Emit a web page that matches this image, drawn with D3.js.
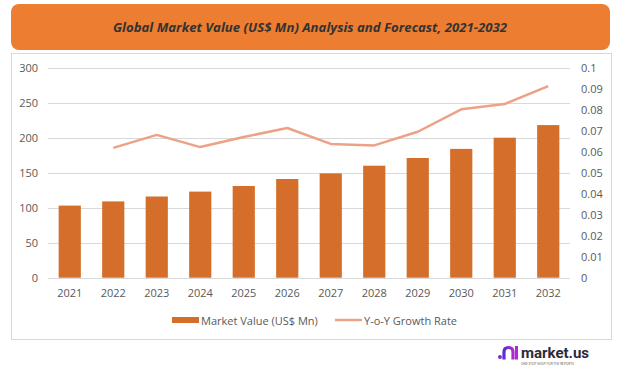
<!DOCTYPE html>
<html>
<head>
<meta charset="utf-8">
<script src="https://d3js.org/d3.v7.min.js"></script>
<style>
  body { margin: 0; background: #fff; }
  svg { display: block; font-family: "Open Sans", "Liberation Sans", sans-serif; }
</style>
</head>
<body>
<script>
const years = ["2021","2022","2023","2024","2025","2026","2027","2028","2029","2030","2031","2032"];
const marketValue = [103, 109, 116, 123, 131, 141, 149, 160, 171, 184, 200, 218];
const growthRate = [null, 0.0618, 0.068, 0.0622, 0.067, 0.0713, 0.0637, 0.063, 0.0695, 0.0802, 0.0827, 0.0912];
const leftTicks = [0, 50, 100, 150, 200, 250, 300];
const rightTicks = [0, 0.01, 0.02, 0.03, 0.04, 0.05, 0.06, 0.07, 0.08, 0.09, 0.1];

const W = 621, H = 371;
const svg = d3.select("body").append("svg").attr("width", W).attr("height", H);

// title banner
svg.append("rect").attr("x", 11).attr("y", 4).attr("width", 599).attr("height", 46)
  .attr("rx", 8).attr("fill", "#ED7D31");
svg.append("text").attr("x", 310).attr("y", 31.5).attr("text-anchor", "middle")
  .attr("font-size", 13.2).attr("font-style", "italic").attr("font-weight", "bold")
  .attr("fill", "#333").text("Global Market Value (US$ Mn) Analysis and Forecast, 2021-2032");

// chart frame
svg.append("rect").attr("x", 11.5).attr("y", 53.5).attr("width", 600).attr("height", 286)
  .attr("fill", "#fff").attr("stroke", "#d9d9d9");

const x = d3.scaleBand().domain(years).range([48, 570]).paddingInner(0.49).paddingOuter(0.245);
const yL = d3.scaleLinear().domain([0, 300]).range([277.7, 67.7]);
const yR = d3.scaleLinear().domain([0, 0.1]).range([277.7, 67.7]);

// gridlines
svg.append("g").selectAll("line").data(leftTicks).join("line")
  .attr("x1", 48).attr("x2", 570)
  .attr("y1", d => Math.round(yL(d)) + 0.5).attr("y2", d => Math.round(yL(d)) + 0.5)
  .attr("stroke", "#d9d9d9");

// left axis labels
svg.append("g").selectAll("text").data(leftTicks).join("text")
  .attr("x", 38).attr("y", d => yL(d) + 4).attr("text-anchor", "end")
  .attr("font-size", 11).attr("fill", "#595959").text(d => d);

// right axis labels
svg.append("g").selectAll("text").data(rightTicks).join("text")
  .attr("x", 581).attr("y", d => yR(d) + 4).attr("text-anchor", "start")
  .attr("font-size", 11).attr("fill", "#595959").text(d => d3.format("")(+d.toFixed(2)));

// bars
svg.append("g").selectAll("rect").data(marketValue).join("rect")
  .attr("x", (d, i) => x(years[i])).attr("width", x.bandwidth())
  .attr("y", d => yL(d)).attr("height", d => yL(0) - yL(d))
  .attr("fill", "#D46E2A");

// growth line
const line = d3.line()
  .defined(d => d != null)
  .x((d, i) => x(years[i]) + x.bandwidth() / 2)
  .y(d => yR(d));
svg.append("path").datum(growthRate).attr("d", line)
  .attr("fill", "none").attr("stroke", "#EDA287").attr("stroke-width", 2.5)
  .attr("stroke-linejoin", "round");

// x labels
svg.append("g").selectAll("text").data(years).join("text")
  .attr("x", d => x(d) + x.bandwidth() / 2).attr("y", 297).attr("text-anchor", "middle")
  .attr("font-size", 11).attr("fill", "#595959").text(d => d);

// legend
const lg = svg.append("g").attr("font-size", 11).attr("fill", "#595959");
lg.append("rect").attr("x", 172).attr("y", 317).attr("width", 27).attr("height", 6).attr("fill", "#D46E2A");
lg.append("text").attr("x", 201).attr("y", 324.5).text("Market Value (US$ Mn)");
lg.append("line").attr("x1", 335).attr("x2", 362).attr("y1", 320).attr("y2", 320)
  .attr("stroke", "#EDA287").attr("stroke-width", 2.5);
lg.append("text").attr("x", 364).attr("y", 324.5).text("Y-o-Y Growth Rate");

// logo
const logo = svg.append("g");
const grad = svg.append("defs").append("linearGradient").attr("id", "lg1");
grad.append("stop").attr("offset", "0%").attr("stop-color", "#5b2bd6");
grad.append("stop").attr("offset", "100%").attr("stop-color", "#b02ad0");
logo.append("circle").attr("cx", 500).attr("cy", 357).attr("r", 2).attr("fill", "url(#lg1)");
logo.append("path").attr("d", "M504,359.5 L504,352 Q504,347.5 508.5,347.5 Q513,347.5 513,352 L513,359.5")
  .attr("fill", "none").attr("stroke", "url(#lg1)").attr("stroke-width", 3.2);
logo.append("rect").attr("x", 515).attr("y", 346).attr("width", 3).attr("height", 13.5).attr("fill", "#b02ad0");
logo.append("text").attr("x", 521).attr("y", 358).attr("font-size", 15).attr("font-weight", "bold")
  .attr("fill", "#2a2a3c").attr("font-family", "Roboto, sans-serif").text("market.us");
logo.append("text").attr("x", 521).attr("y", 365).attr("font-size", 3.2).attr("fill", "#555")
  .text("ONE STOP SHOP FOR THE REPORTS");
</script>
</body>
</html>
